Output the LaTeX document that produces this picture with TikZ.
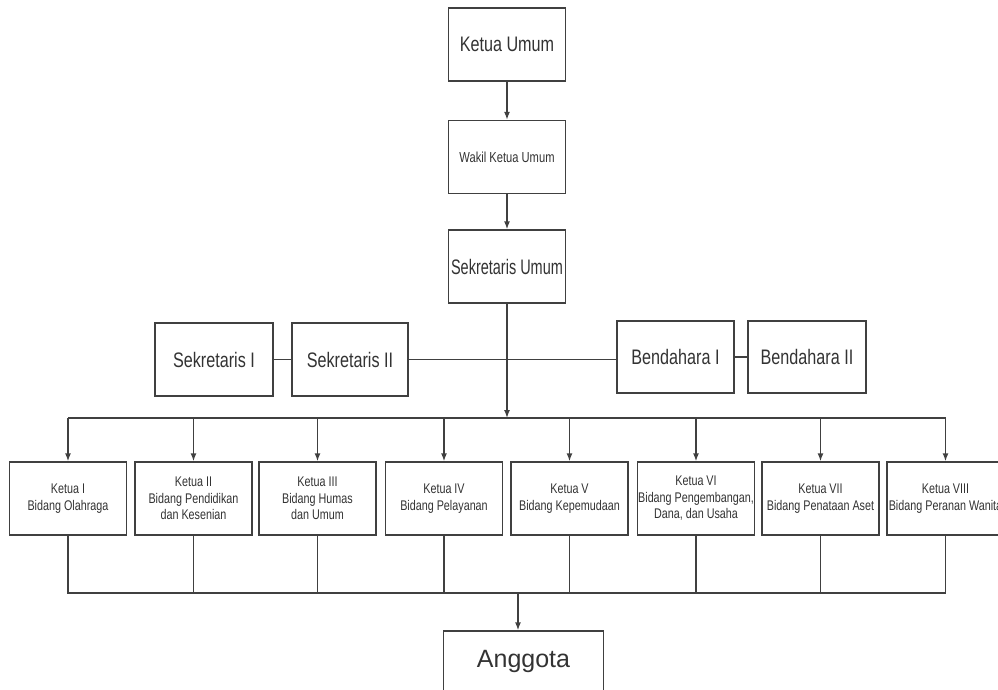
\documentclass[tikz,border=0pt]{standalone}
\usepackage{fontspec}
\setmainfont{Liberation Sans}[FakeStretch=0.77]
\newfontfamily\narrowfont{Liberation Sans}[FakeStretch=0.69]
\newfontfamily\widefont{Liberation Sans}
\usetikzlibrary{arrows.meta,positioning,calc}
\definecolor{inkgray}{HTML}{404040}
\definecolor{textgray}{HTML}{333333}

\begin{document}
\begin{tikzpicture}[x={(1pt,0)},y={(0,-1pt)},>={Latex[length=8pt,width=6pt]},
  line width=1.4pt,draw=inkgray,
  box/.style={draw=inkgray,fill=white,minimum width=117pt,minimum height=73pt,inner sep=2pt,text=textgray},
  big/.style={box,font=\fontsize{21}{25}\selectfont},
  ketua/.style={box,inner xsep=0pt,align=center,font=\fontsize{14}{16.5}\selectfont}]
\useasboundingbox (0,0) rectangle (998,689);
\clip (0,0) rectangle (998,689);
% pimpinan
\node[big] (ku) at(507,44.5){Ketua Umum};
\node[box,font=\fontsize{14.5}{16}\selectfont] (wk) at(507,157){Wakil Ketua Umum};
\node[box,font=\fontsize{21}{25}\narrowfont] (su) at(507,266.5){Sekretaris Umum};
\draw[->](ku)--(wk);
\draw[->](wk)--(su);
% sekretaris dan bendahara
\node[big,minimum width=118pt] (s1) at(214,359.5){Sekretaris I};
\node[big,minimum width=116pt] (s2) at(350,359.5){Sekretaris II};
\node[big,minimum height=72pt] (b1) at(675.5,357){Bendahara I};
\node[big,minimum height=72pt,minimum width=118pt] (b2) at(807,357){Bendahara II};
\draw(s1)--(s2);
\draw(b1)--(b2);
\draw(s2.east)--(s2.east-|b1.west);
% ketua bidang
\node[ketua] (k1) at(68,498.5){Ketua I\\Bidang Olahraga};
\node[ketua] (k2) at(193.5,498.5){Ketua II\\Bidang Pendidikan\\dan Kesenian};
\node[ketua] (k3) at(317.5,498.5){Ketua III\\Bidang Humas\\dan Umum};
\node[ketua] (k4) at(444,498.5){Ketua IV\\Bidang Pelayanan};
\node[ketua] (k5) at(569.5,498.5){Ketua V\\Bidang Kepemudaan};
\node[ketua] (k6) at(696,498.5){Ketua VI\\Bidang Pengembangan,\\Dana, dan Usaha};
\node[ketua] (k7) at(820.5,498.5){Ketua VII\\Bidang Penataan Aset};
\node[ketua] (k8) at(945.5,498.5){Ketua VIII\\Bidang Peranan Wanita};
\coordinate (up) at(507,418);
\coordinate (lo) at(518,593);
\draw[->](su)--(up);
\draw(k1|-up)--(k8|-up);
\draw[->](k1|-up)--(k1);\draw[->](k2|-up)--(k2);
\draw[->](k3|-up)--(k3);\draw[->](k4|-up)--(k4);
\draw[->](k5|-up)--(k5);\draw[->](k6|-up)--(k6);
\draw[->](k7|-up)--(k7);\draw[->](k8|-up)--(k8);
\draw(k1)--(k1|-lo)--(k8|-lo)--(k8);
\draw(k2)--(k2|-lo);\draw(k3)--(k3|-lo);\draw(k4)--(k4|-lo);
\draw(k5)--(k5|-lo);\draw(k6)--(k6|-lo);\draw(k7)--(k7|-lo);
% anggota
\node[box,minimum width=160pt,text height=12pt,text depth=12pt,font=\fontsize{25}{30}\widefont] (ang) at(523.5,667.5){Anggota};
\draw[->](lo)--(lo|-ang.north);
\end{tikzpicture}
\end{document}
